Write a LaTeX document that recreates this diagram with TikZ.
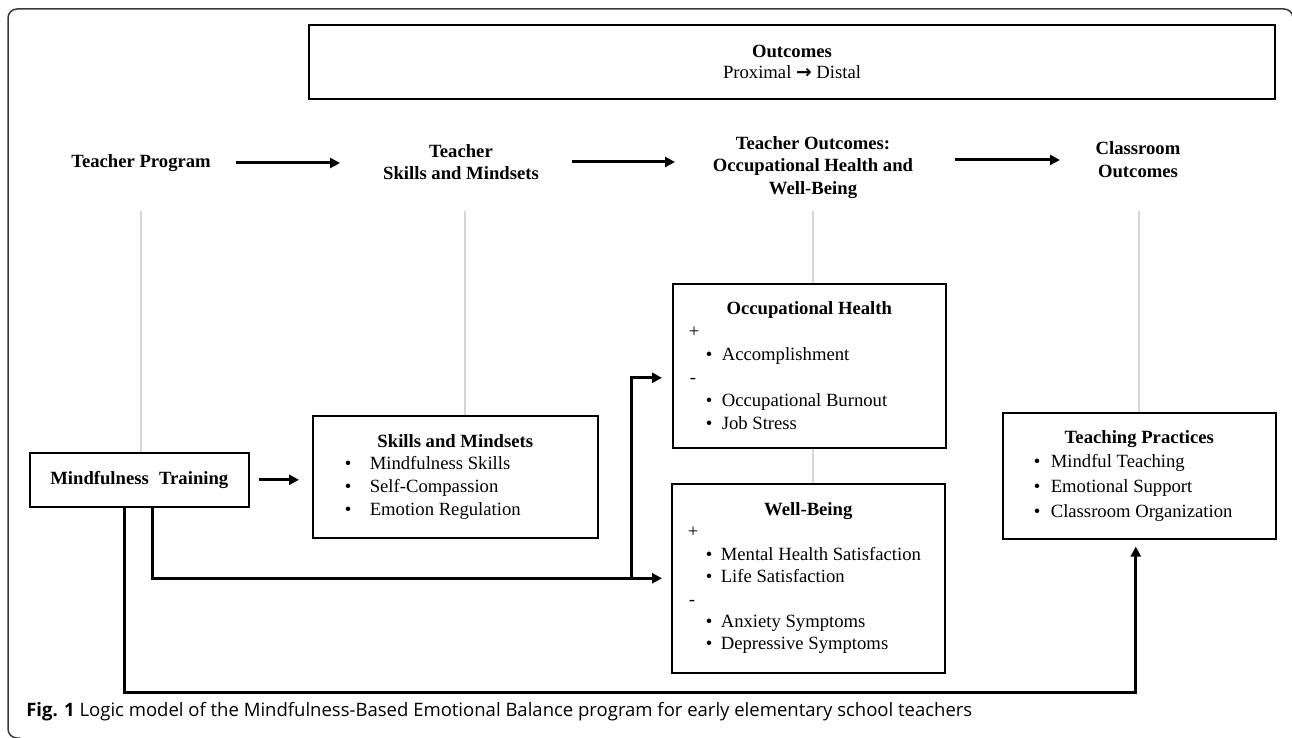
\documentclass[tikz,border=0pt]{standalone}
\usepackage{fontspec}
\usepackage{graphicx}
\setmainfont{Liberation Serif}
\newfontfamily\capfont{Open Sans}
\newfontfamily\djv{DejaVu Sans}
\usetikzlibrary{arrows.meta,calc}
\newdimen\px \px=0.75pt
\definecolor{guidec}{HTML}{D6D6D6}
\definecolor{framec}{HTML}{3A3A3A}
\newcommand\bitem[3]{\noindent\hspace*{#1\px}\makebox[#2\px][l]{\textbullet}#3\par}
\newcommand\sgn[2]{\noindent\hspace*{#1\px}#2\par}
\begin{document}
\begin{tikzpicture}[x=0.75pt,y=-0.75pt,
  box/.style={draw=black, line width=1.6\px, inner sep=0pt, anchor=north west,
    font=\fontsize{14}{17}\selectfont},
  head/.style={inner sep=0pt, align=center, font=\bfseries\fontsize{14}{16.8}\selectfont},
  harrow/.style={line width=3\px, -{Triangle[length=7.5pt,width=7.5pt]}},
  conn/.style={line width=3\px, -{Triangle[length=7.5pt,width=7.5pt]}},
  guide/.style={draw=guidec, line width=1.2\px},
  ]
\useasboundingbox (0,0) rectangle (1292,738);
\fill[white] (0,0) rectangle (1292,738);
% frame
\draw[framec, line width=1.5\px, rounded corners=9\px] (20,738) -- (8,738) -- (8,9) -- (1293,9) -- (1293,738);

% top box
\node[box, minimum width=966\px, minimum height=74\px, line width=2\px] (ob) at (308,24)
  {\parbox{600\px}{\centering\fontsize{14}{15.5}\selectfont\textbf{Outcomes}\\Proximal {\djv\bfseries →} Distal}};

% headers
\node[head] (h1) at (141,163) {Teacher Program};
\node[head] (h2) at (461,162) {Teacher\\Skills and Mindsets};
\node[head] (h3) at (813,167.5) {Teacher Outcomes:\\Occupational Health and\\Well-Being};
\node[head] (h4) at (1138,159.5) {Classroom\\Outcomes};

\draw[harrow] ($(h1.center)+(95,0)$) -- ($(h2.center)+(-121,1)$);
\draw[harrow] ($(h2.center)+(111,0)$) -- ($(h3.center)+(-138,-5.5)$);
\draw[harrow] ($(h3.center)+(142,-7.5)$) -- ($(h4.center)+(-78,0.5)$);

% boxes
\node[box, minimum width=219\px, minimum height=54\px] (mt) at (29,452)
  {\bfseries Mindfulness\hspace{0.55em}Training};
\node[box, minimum width=285\px, minimum height=122\px] (sk) at (312,415)
  {\parbox{285\px}{\fontsize{14}{17}\selectfont
   {\centering\bfseries Skills and Mindsets\par}
   \bitem{32}{25}{Mindfulness Skills}
   \bitem{32}{25}{Self-Compassion}
   \bitem{32}{25}{Emotion Regulation}}};
\node[box, minimum width=273\px, minimum height=164\px] (oh) at (672,283)
  {\parbox{273\px}{\fontsize{14}{17.3}\selectfont
   {\centering\bfseries Occupational Health\par}
   \sgn{16}{+}
   \bitem{33}{16}{Accomplishment}
   \sgn{17}{-}
   \bitem{33}{16}{Occupational Burnout}
   \bitem{33}{16}{Job Stress}}};
\node[box, minimum width=273\px, minimum height=189\px] (wb) at (671,483)
  {\parbox{273\px}{\fontsize{14}{16.8}\selectfont
   {\centering\bfseries Well-Being\par}
   \sgn{16}{+}
   \bitem{34}{15}{Mental Health Satisfaction}
   \bitem{34}{15}{Life Satisfaction}
   \sgn{17}{-}
   \bitem{34}{15}{Anxiety Symptoms}
   \bitem{34}{15}{Depressive Symptoms}}};
\node[box, minimum width=273\px, minimum height=126\px] (tp) at (1002,412)
  {\parbox{273\px}{\fontsize{14}{18.5}\selectfont
   {\centering\bfseries Teaching Practices\par}
   \bitem{31}{17}{Mindful Teaching}
   \bitem{31}{17}{Emotional Support}
   \bitem{31}{17}{Classroom Organization}}};

% guide lines
\coordinate (gtop) at (0,211);
\draw[guide] (h1.center |- gtop) -- (h1.center |- mt.north);
\draw[guide] ($(h2.center |- gtop)+(4,0)$) -- ($(h2.center |- sk.north)+(4,0)$);
\draw[guide] (h3.center |- gtop) -- (h3.center |- oh.north);
\draw[guide] (h3.center |- oh.south) -- (h3.center |- wb.north);
\draw[guide] ($(h4.center |- gtop)+(1,0)$) -- ($(h4.center |- tp.north)+(1,0)$);

% connectors
\draw[harrow] ($(mt.east)+(9,0)$) -- ($(sk.west |- mt.east)+(-13,0)$);
\coordinate (j1) at ($(wb.west)+(-40,0)$);
\draw[conn] ($(mt.south)+(13.5,0)$) |- ($(wb.west)+(-9,0)$);
\draw[conn] (j1) |- ($(oh.west)+(-10,12)$);
\draw[conn] ($(mt.south)+(-14.5,0)$) -- ++(0,185) -| ($(tp.south)+(-3.5,7)$);

% caption
\node[anchor=base west, inner sep=0pt] (cap) at (26,716)
  {\resizebox{946\px}{!}{\capfont\fontsize{12}{14}\selectfont\textbf{Fig. 1} Logic model of the Mindfulness-Based Emotional Balance program for early elementary school teachers}};
\end{tikzpicture}
\end{document}
